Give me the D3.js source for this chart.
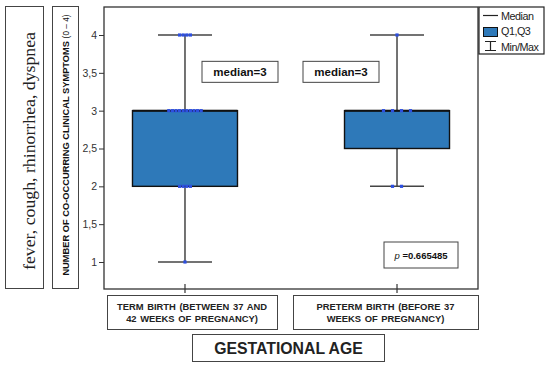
<!DOCTYPE html>
<html>
<head>
<meta charset="utf-8">
<script src="https://cdn.jsdelivr.net/npm/d3@7"></script>
<style>
  body { margin: 0; background: #fff; }
  svg { font-family: "Liberation Sans", Arial, sans-serif; }
</style>
</head>
<body>
<div id="chart"></div>
<script>
// Data
const groups = ["TERM BIRTH (BETWEEN 37 AND|42 WEEKS OF PREGNANCY)", "PRETERM BIRTH (BEFORE 37|WEEKS OF PREGNANCY)"];
const minVals = [1, 2];
const q1Vals = [2, 2.5];
const medianVals = [3, 3];
const q3Vals = [3, 3];
const maxVals = [4, 4];
// observed points (value, count) per group
const points = [
    [[4, 4], [3, 10], [2, 4], [1, 1]],
    [[4, 1], [3, 4], [2, 2]]
];
const yTicks = [1, 1.5, 2, 2.5, 3, 3.5, 4];
const pValue = "0.665485";

const width = 550, height = 365;
const plot = {left: 104, right: 478, top: 7, bottom: 289};

const svg = d3.select("#chart").append("svg")
    .attr("width", width)
    .attr("height", height);

const x = d3.scalePoint()
    .domain(groups)
    .range([plot.left, plot.right])
    .padding(0.382);

const y = d3.scaleLinear()
    .domain([1, 4])
    .range([262, 35]);

const boxW = 105, capW = 54;
const fmt = d => d3.format("")(d).replace(".", ",");

// frame
svg.append("rect")
    .attr("x", plot.left).attr("y", plot.top)
    .attr("width", plot.right - plot.left).attr("height", plot.bottom - plot.top)
    .attr("fill", "none").attr("stroke", "#333").attr("stroke-width", 1.3);

// y axis
const yAxis = svg.append("g")
    .attr("transform", `translate(${plot.left},0)`)
    .call(d3.axisLeft(y).tickValues(yTicks).tickFormat(fmt).tickSize(5).tickPadding(2));
yAxis.select(".domain").remove();
yAxis.selectAll("line").attr("stroke", "#333");
yAxis.selectAll("text").attr("font-size", 10.5).attr("fill", "#333")
    .attr("font-family", "Liberation Sans, Arial, sans-serif");

// x ticks crossing the bottom edge
svg.append("g").selectAll("line")
    .data(groups).enter().append("line")
    .attr("x1", d => x(d)).attr("x2", d => x(d))
    .attr("y1", plot.bottom - 5).attr("y2", plot.bottom + 4)
    .attr("stroke", "#333").attr("stroke-width", 1.2);

// boxes
const box = svg.append("g").selectAll("g")
    .data(groups).enter().append("g");

box.append("line")
    .attr("x1", d => x(d)).attr("x2", d => x(d))
    .attr("y1", (d, i) => y(minVals[i])).attr("y2", (d, i) => y(maxVals[i]))
    .attr("stroke", "#444").attr("stroke-width", 1.5);
box.append("line")
    .attr("x1", d => x(d) - capW / 2).attr("x2", d => x(d) + capW / 2)
    .attr("y1", (d, i) => y(maxVals[i])).attr("y2", (d, i) => y(maxVals[i]))
    .attr("stroke", "#444").attr("stroke-width", 1.5);
box.append("line")
    .attr("x1", d => x(d) - capW / 2).attr("x2", d => x(d) + capW / 2)
    .attr("y1", (d, i) => y(minVals[i])).attr("y2", (d, i) => y(minVals[i]))
    .attr("stroke", "#444").attr("stroke-width", 1.5);
box.append("rect")
    .attr("x", d => x(d) - boxW / 2).attr("width", boxW)
    .attr("y", (d, i) => y(q3Vals[i]))
    .attr("height", (d, i) => y(q1Vals[i]) - y(q3Vals[i]))
    .attr("fill", "#2e79b9").attr("stroke", "#111").attr("stroke-width", 1.4);
box.append("line")
    .attr("x1", d => x(d) - boxW / 2).attr("x2", d => x(d) + boxW / 2)
    .attr("y1", (d, i) => y(medianVals[i])).attr("y2", (d, i) => y(medianVals[i]))
    .attr("stroke", "#111").attr("stroke-width", 2);

// observed points, spread sideways
const dots = [];
points.forEach((grp, gi) => {
    grp.forEach(([v, n]) => {
        for (let k = 0; k < n; k++) dots.push({g: groups[gi], v: v, off: (k - (n - 1) / 2) * (gi === 0 ? 3.6 : 9)});
    });
});
svg.append("g").selectAll("rect")
    .data(dots).enter().append("rect")
    .attr("x", d => x(d.g) + d.off - 1.6).attr("y", d => y(d.v) - 1.6)
    .attr("width", 3.2).attr("height", 3.2)
    .attr("fill", "#2d4fe0");

// median labels
const labelBox = (cx, cy, w, h) => svg.append("rect")
    .attr("x", cx - w / 2).attr("y", cy - h / 2).attr("width", w).attr("height", h)
    .attr("fill", "#fff").attr("stroke", "#444").attr("stroke-width", 1);

[240, 341].forEach((cx, i) => {
    labelBox(cx, y(3.5) - 1, 76, 21);
    svg.append("text").attr("x", cx).attr("y", y(3.5) + 3)
        .attr("text-anchor", "middle").attr("font-size", 11.5).attr("font-weight", "bold")
        .attr("fill", "#111").text("median=" + medianVals[i]);
});

// p value
labelBox(421, 255, 74, 26);
const pt = svg.append("text").attr("x", 421).attr("y", 258.5)
    .attr("text-anchor", "middle").attr("font-size", 9.5).attr("fill", "#111");
pt.append("tspan").attr("font-style", "italic").text("p ");
pt.append("tspan").attr("font-weight", "bold").text("=" + pValue);

// legend
const lg = svg.append("g").attr("transform", "translate(479,7)");
lg.append("rect").attr("width", 65).attr("height", 47)
    .attr("fill", "#fff").attr("stroke", "#222").attr("stroke-width", 1.2);
lg.append("line").attr("x1", 4).attr("x2", 19).attr("y1", 8.5).attr("y2", 8.5)
    .attr("stroke", "#222").attr("stroke-width", 1.2);
lg.append("rect").attr("x", 4.5).attr("y", 20.5).attr("width", 14).attr("height", 9)
    .attr("fill", "#2e79b9").attr("stroke", "#111");
lg.append("path").attr("d", "M6,34.5H17M11.5,34.5V43.5M6,43.5H17")
    .attr("stroke", "#222").attr("stroke-width", 1.2).attr("fill", "none");
["Median", "Q1,Q3", "Min/Max"].forEach((t, i) => {
    lg.append("text").attr("x", 22).attr("y", 12.5 + i * 15.5)
        .attr("font-size", 10.8).attr("fill", "#222").attr("letter-spacing", -0.5).text(t);
});

// left label boxes
svg.append("rect").attr("x", 5.5).attr("y", 6.5).attr("width", 38).attr("height", 282)
    .attr("fill", "none").attr("stroke", "#444").attr("stroke-width", 1);
svg.append("text")
    .attr("transform", "translate(35,151) rotate(-90)")
    .attr("text-anchor", "middle").attr("font-size", 17)
    .attr("textLength", 238).attr("lengthAdjust", "spacingAndGlyphs")
    .attr("font-family", "Liberation Serif, serif").attr("fill", "#222")
    .text("fever, cough, rhinorrhea, dyspnea");

svg.append("rect").attr("x", 52.5).attr("y", 6.5).attr("width", 26).attr("height", 282)
    .attr("fill", "none").attr("stroke", "#444").attr("stroke-width", 1);
const yl = svg.append("text")
    .attr("transform", "translate(68.5,145) rotate(-90)")
    .attr("text-anchor", "middle").attr("font-size", 9.3).attr("fill", "#111");
yl.append("tspan").attr("font-weight", "bold").text("NUMBER OF CO-OCCURRING CLINICAL SYMPTOMS ");
yl.append("tspan").attr("font-size", 8.3).text("(0 \u2013 4)");

// category label boxes
const catBoxes = [[107, 277], [293, 478]];
groups.forEach((g, i) => {
    const [x0, x1] = catBoxes[i];
    svg.append("rect").attr("x", x0 + 0.5).attr("y", 295.5).attr("width", x1 - x0).attr("height", 34)
        .attr("fill", "none").attr("stroke", "#444").attr("stroke-width", 1);
    g.split("|").forEach((line, j) => {
        svg.append("text").attr("x", (x0 + x1) / 2).attr("y", 309.5 + j * 12)
            .attr("text-anchor", "middle").attr("font-size", 9.4).attr("font-weight", "bold")
            .attr("fill", "#222").attr("word-spacing", 1).text(line);
    });
});

// x title
svg.append("rect").attr("x", 192.5).attr("y", 334.5).attr("width", 192).attr("height", 27)
    .attr("fill", "none").attr("stroke", "#444").attr("stroke-width", 1);
svg.append("text").attr("x", 288.5).attr("y", 353.5)
    .attr("text-anchor", "middle").attr("font-size", 15.8).attr("font-weight", "bold")
    .attr("fill", "#222").text("GESTATIONAL AGE");
</script>
</body>
</html>
